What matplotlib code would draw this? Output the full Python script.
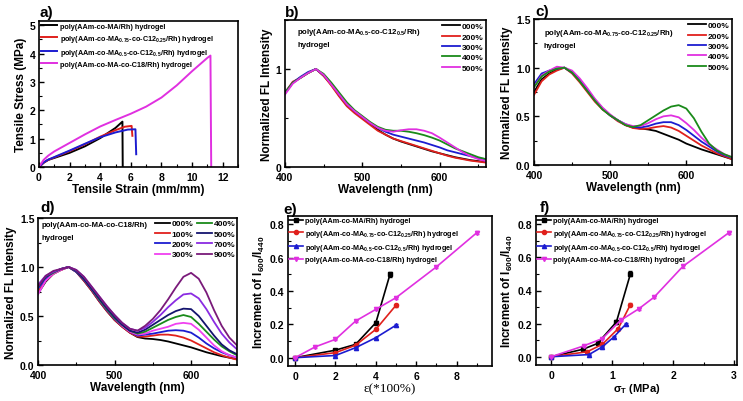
import matplotlib
matplotlib.use('Agg')
from matplotlib import pyplot as plt
from matplotlib.ticker import AutoMinorLocator, FormatStrFormatter

plt.rcParams['font.family'] = ['Liberation Sans', 'DejaVu Sans']
plt.rcParams['font.weight'] = 'bold'
plt.rcParams['axes.labelweight'] = 'bold'
plt.rcParams['mathtext.fontset'] = 'custom'
plt.rcParams['mathtext.rm'] = 'Liberation Sans:bold'
plt.rcParams['mathtext.it'] = 'Liberation Sans:bold:italic'
plt.rcParams['mathtext.bf'] = 'Liberation Sans:bold'
plt.rcParams['mathtext.default'] = 'rm'
plt.rcParams['axes.linewidth'] = 1.2

# ---------------- data ----------------
# a) tensile curves
a_labels = ['poly(AAm-co-MA/Rh) hydrogel',
            'poly(AAm-co-MA$_{0.75}$-co-C12$_{0.25}$/Rh) hydrogel',
            'poly(AAm-co-MA$_{0.5}$-co-C12$_{0.5}$/Rh) hydrogel',
            'poly(AAm-co-MA-co-C18/Rh) hydrogel']
a_x1 = [0, 0.3, 0.6, 1, 2, 3, 4, 5, 5.45, 5.47]
a_y1 = [0, 0.15, 0.25, 0.32, 0.5, 0.73, 1.02, 1.38, 1.6, 0]
a_x2 = [0, 0.3, 0.6, 1, 2, 3, 4, 5, 5.6, 6.05, 6.1]
a_y2 = [0, 0.15, 0.25, 0.34, 0.56, 0.8, 1.07, 1.3, 1.42, 1.45, 1.1]
a_x3 = [0, 0.3, 0.6, 1, 2, 3, 4, 5, 5.8, 6.3, 6.35]
a_y3 = [0, 0.16, 0.26, 0.35, 0.58, 0.82, 1.05, 1.22, 1.32, 1.33, 0.45]
a_x4 = [0, 0.3, 0.6, 1, 2, 3, 4, 5, 6, 7, 8, 9, 10, 11, 11.2, 11.25]
a_y4 = [0, 0.25, 0.4, 0.55, 0.85, 1.15, 1.43, 1.66, 1.88, 2.13, 2.45, 2.88, 3.38, 3.85, 3.93, 0]

# b-d) spectra
wl = [400, 410, 420, 430, 440, 450, 460, 470, 480, 490, 500, 510, 520, 530,
      540, 550, 560, 570, 580, 590, 600, 610, 620, 630, 640, 650, 660]

b_labels = ['000%', '200%', '300%', '400%', '500%']
b_000 = [.75, .86, .91, .96, 1.0, .93, .84, .73, .63, .56, .50, .44, .38, .33,
         .29, .26, .235, .21, .185, .16, .14, .12, .10, .085, .07, .06, .05]
b_200 = [.76, .87, .91, .96, 1.0, .93, .83, .72, .62, .55, .49, .43, .37, .33,
         .29, .265, .24, .215, .19, .165, .14, .115, .095, .08, .065, .055, .045]
b_300 = [.76, .86, .92, .97, 1.0, .94, .85, .74, .64, .57, .51, .45, .40, .36,
         .33, .31, .29, .27, .25, .225, .20, .17, .15, .13, .11, .09, .08]
b_400 = [.76, .86, .91, .96, 1.0, .95, .86, .76, .66, .58, .52, .46, .41, .38,
         .37, .37, .36, .345, .325, .30, .27, .23, .19, .16, .13, .10, .08]
b_500 = [.74, .85, .91, .96, 1.0, .94, .84, .74, .64, .57, .51, .45, .40, .37,
         .36, .375, .385, .385, .37, .345, .30, .25, .20, .15, .11, .08, .06]

c_labels = ['000%', '200%', '300%', '400%', '500%']
c_000 = [.75, .88, .94, .98, 1.0, .95, .87, .77, .67, .58, .51, .46, .41, .385,
         .375, .365, .35, .32, .29, .26, .22, .19, .16, .135, .11, .085, .06]
c_200 = [.72, .86, .93, .97, 1.0, .94, .85, .75, .65, .57, .51, .45, .41, .38,
         .37, .375, .39, .40, .385, .35, .30, .25, .20, .16, .12, .09, .06]
c_300 = [.83, .94, .97, .99, 1.0, .95, .87, .77, .67, .58, .51, .46, .42, .39,
         .385, .40, .425, .44, .44, .41, .36, .30, .24, .19, .14, .10, .075]
c_400 = [.80, .92, .97, 1.01, 1.0, .97, .89, .79, .68, .59, .52, .46, .42, .40,
         .40, .43, .47, .50, .51, .49, .43, .36, .28, .21, .16, .11, .08]
c_500 = [.80, .91, .96, .99, 1.0, .95, .86, .76, .66, .57, .51, .46, .41, .39,
         .41, .46, .51, .56, .60, .615, .58, .48, .34, .22, .15, .11, .08]

d_labels = ['000%', '100%', '200%', '300%', '400%', '500%', '700%', '900%']
d_000 = [.73, .85, .93, .97, 1.0, .95, .86, .76, .65, .55, .46, .39, .33, .285,
         .27, .265, .255, .24, .22, .20, .18, .155, .13, .11, .09, .075, .06]
d_100 = [.75, .86, .93, .97, 1.0, .95, .86, .76, .65, .55, .46, .39, .33, .29,
         .29, .30, .31, .31, .30, .28, .25, .21, .17, .13, .10, .075, .055]
d_200 = [.78, .88, .94, .98, 1.0, .95, .87, .77, .66, .56, .47, .40, .34, .30,
         .31, .32, .335, .35, .355, .35, .33, .28, .22, .17, .13, .10, .075]
d_300 = [.72, .86, .93, .97, 1.0, .96, .88, .78, .67, .57, .48, .40, .34, .31,
         .32, .35, .37, .39, .42, .43, .42, .36, .28, .20, .14, .10, .075]
d_400 = [.80, .90, .94, .98, 1.0, .96, .88, .78, .67, .57, .48, .41, .35, .32,
         .34, .38, .42, .46, .49, .51, .49, .42, .34, .26, .19, .14, .10]
d_500 = [.80, .90, .95, .98, 1.0, .96, .88, .78, .68, .58, .49, .41, .35, .33,
         .36, .41, .46, .51, .55, .575, .57, .50, .40, .30, .21, .15, .11]
d_700 = [.82, .91, .95, .98, 1.0, .97, .90, .80, .70, .60, .51, .43, .37, .35,
         .38, .44, .51, .59, .66, .72, .73, .68, .57, .44, .32, .23, .16]
d_900 = [.80, .91, .96, .98, 1.0, .97, .90, .80, .70, .60, .51, .43, .37, .35,
         .40, .47, .56, .67, .79, .90, .94, .88, .74, .56, .40, .28, .20]

# e) increment vs strain
e_x1 = [0, 2, 3, 4, 4.7]
e_y1 = [0, 0.045, 0.08, 0.21, 0.50]
e_err1 = [0.003, 0.005, 0.006, 0.01, 0.015]
e_x2 = [0, 2, 3, 4, 5]
e_y2 = [0, 0.03, 0.075, 0.17, 0.315]
e_err2 = [0.003, 0.004, 0.005, 0.006, 0.008]
e_x3 = [0, 2, 3, 4, 5]
e_y3 = [0, 0.013, 0.06, 0.12, 0.195]
e_err3 = [0.003, 0.004, 0.004, 0.005, 0.006]
e_x4 = [0, 1, 2, 3, 4, 5, 7, 9]
e_y4 = [0, 0.065, 0.11, 0.22, 0.29, 0.36, 0.545, 0.75]
e_err4 = [0.003, 0.004, 0.004, 0.005, 0.005, 0.006, 0.008, 0.01]

# f) increment vs stress
f_x1 = [0, 0.52, 0.76, 1.07, 1.30]
f_x2 = [0, 0.59, 0.84, 1.10, 1.30]
f_x3 = [0, 0.62, 0.84, 1.03, 1.22]
f_x4 = [0, 0.53, 0.84, 1.14, 1.44, 1.69, 2.16, 2.92]

# ---------------- figure ----------------
W, H = 743, 402
fig = plt.figure(figsize=(W / 100, H / 100), dpi=100)


def box(l, r, t, b):
    return [l / W, 1 - b / H, (r - l) / W, (b - t) / H]


def style(ax):
    ax.tick_params(which='both', direction='in', top=False, right=False, labelsize=7.5)
    ax.tick_params(axis='x', pad=3.5)
    ax.tick_params(axis='y', pad=2.5)
    ax.tick_params(which='major', length=3.5, width=1)
    ax.tick_params(which='minor', length=2, width=0.8)
    ax.xaxis.set_minor_locator(AutoMinorLocator(2))
    ax.yaxis.set_minor_locator(AutoMinorLocator(2))
    for lab in ax.get_xticklabels() + ax.get_yticklabels():
        lab.set_fontweight('bold')


cols4 = ['#000000', '#e0201c', '#1c1cd0', '#e030e0']

# a)
ax = fig.add_axes(box(39, 238, 22, 168))
for xs, ys, c, lab in zip([a_x1, a_x2, a_x3, a_x4], [a_y1, a_y2, a_y3, a_y4], cols4, a_labels):
    ax.plot(xs, ys, color=c, lw=1.4, label=lab)
ax.set_xlim(0, 13)
ax.set_ylim(0, 5.15)
ax.set_xticks(range(0, 13, 2))
ax.set_yticks(range(0, 6))
ax.set_xlabel('Tensile Strain (mm/mm)', fontsize=8.5, labelpad=1)
ax.set_ylabel('Tensile Stress (MPa)', fontsize=8.5, labelpad=2)
style(ax)
ax.legend(loc='upper left', frameon=False, fontsize=5.2, handlelength=2.3, handletextpad=0.3,
          labelspacing=0.4, borderaxespad=0.1, borderpad=0.15)


def spectra(ax, series, labels, colors, note):
    for ys, c, lab in zip(series, colors, labels):
        ax.plot(wl, ys, color=c, lw=1.3, label=lab)
    ax.set_xlim(400, 660)
    ax.set_xticks([400, 500, 600])
    ax.set_xlabel('Wavelength (nm)', fontsize=8.5, labelpad=1)
    ax.set_ylabel('Normalized FL Intensity', fontsize=8.5, labelpad=2)
    ax.text(note[0], note[1], note[2], transform=ax.transAxes, fontsize=5.6, va='center')
    ax.text(note[0], note[1] - 0.09, 'hydrogel', transform=ax.transAxes, fontsize=5.6, va='center')
    style(ax)


# b)
ax = fig.add_axes(box(285, 486, 21, 168))
spectra(ax, [b_000, b_200, b_300, b_400, b_500], b_labels,
        ['#000000', '#e0201c', '#1c1cd0', '#1a8a1a', '#e030e0'],
        (0.06, 0.92, 'poly(AAm-co-MA$_{0.5}$-co-C12$_{0.5}$/Rh)'))
ax.set_ylim(0, 1.5)
ax.set_yticks([0, 1])
ax.yaxis.set_minor_locator(AutoMinorLocator(2))
ax.legend(loc='upper right', frameon=False, fontsize=6, handlelength=2.2, handletextpad=0.2,
          labelspacing=0.3, borderaxespad=0.2, borderpad=0.1)

# c)
ax = fig.add_axes(box(534, 732, 20, 166))
spectra(ax, [c_000, c_200, c_300, c_400, c_500], c_labels,
        ['#000000', '#e0201c', '#1c1cd0', '#e030e0', '#1a8a1a'],
        (0.05, 0.91, 'poly(AAm-co-MA$_{0.75}$-co-C12$_{0.25}$/Rh)'))
ax.set_ylim(0, 1.5)
ax.set_yticks([0, 0.5, 1.0, 1.5])
ax.legend(loc='upper right', frameon=False, fontsize=6, handlelength=2.2, handletextpad=0.2,
          labelspacing=0.3, borderaxespad=0.2, borderpad=0.1)

# d)
ax = fig.add_axes(box(38, 237, 219, 366))
spectra(ax, [d_000, d_100, d_200, d_300, d_400, d_500, d_700, d_900], d_labels,
        ['#000000', '#e0201c', '#1c1cd0', '#f040f0', '#1a8a1a', '#14146e', '#8a2be2', '#7a1a7a'],
        (0.02, 0.955, 'poly(AAm-co-MA-co-C18/Rh)'))
ax.set_ylim(0, 1.5)
ax.set_yticks([0, 0.5, 1.0, 1.5])
ax.legend(loc='upper right', frameon=False, fontsize=6, ncol=2, handlelength=1.8, handletextpad=0.2,
          labelspacing=0.3, columnspacing=0.4, borderaxespad=0.1, borderpad=0.1)


def increments(ax, xs_list, ys_list, errs):
    markers = ['s', 'o', '^', 'v']
    for xs, ys, er, c, m, lab in zip(xs_list, ys_list, errs, cols4, markers, a_labels):
        ax.errorbar(xs, ys, yerr=er, color=c, fmt='none', capsize=1.5, elinewidth=0.8)
        ax.plot(xs, ys, color=c, marker=m, ms=3, lw=1.2, label=lab)
    ax.set_ylim(-0.05, 0.85)
    ax.set_yticks([0, 0.2, 0.4, 0.6, 0.8])
    ax.set_ylabel('Increment of I$_{600}$/I$_{440}$', fontsize=8.5, labelpad=2)
    style(ax)
    ax.yaxis.set_major_formatter(FormatStrFormatter('%.1f'))
    ax.legend(loc='upper left', frameon=False, fontsize=5.2, handlelength=1.9, handletextpad=0.3,
              labelspacing=0.45, borderaxespad=0.0, borderpad=0.2)


# e)
ax = fig.add_axes(box(288, 492, 217, 367))
increments(ax, [e_x1, e_x2, e_x3, e_x4], [e_y1, e_y2, e_y3, e_y4], [e_err1, e_err2, e_err3, e_err4])
ax.set_xlim(-0.35, 9.75)
ax.set_xticks([0, 2, 4, 6, 8])
ax.set_xlabel('ε(*100%)', fontsize=9.5, fontweight='normal', family=['Liberation Serif', 'DejaVu Serif'],
              labelpad=1)

# f)
ax = fig.add_axes(box(536, 737, 217, 366))
increments(ax, [f_x1, f_x2, f_x3, f_x4], [e_y1, e_y2, e_y3, e_y4], [e_err1, e_err2, e_err3, e_err4])
ax.set_xlim(-0.25, 3.05)
ax.set_xticks([0, 1, 2, 3])
ax.set_xlabel('σ$_{T}$ (MPa)', fontsize=8, labelpad=1)

# panel letters
for x, y, s in [(40, 13, 'a)'), (285, 13, 'b)'), (535, 12, 'c)'),
                (40, 208, 'd)'), (283, 210, 'e)'), (540, 208, 'f)')]:
    fig.text(x / W, 1 - y / H, s, fontsize=11, fontweight='bold', va='center', ha='left')

fig.savefig('out.png', dpi=100)
